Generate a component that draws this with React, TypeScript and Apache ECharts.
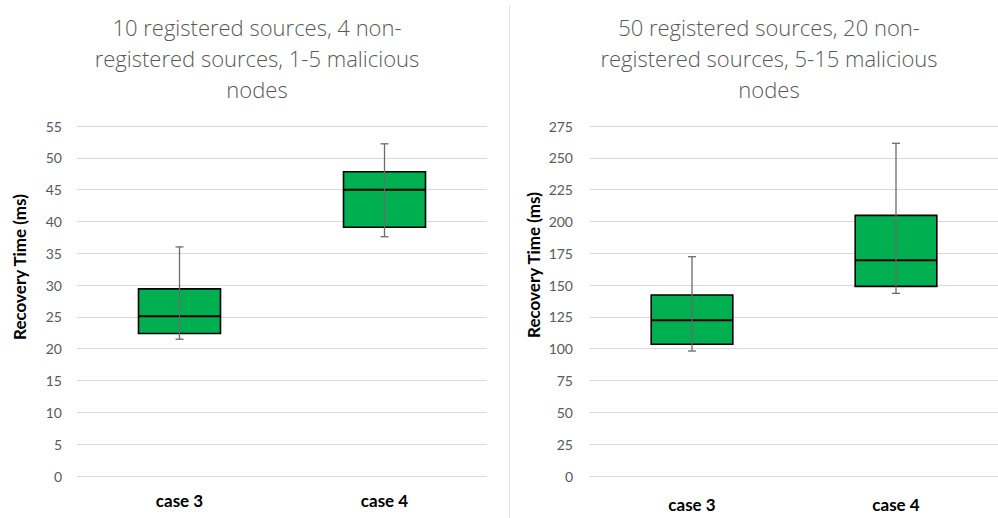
import React, { useEffect, useRef } from "react";
import * as echarts from "echarts";

const categories = ["case 3", "case 4"];

const titleSmall = "10 registered sources, 4 non-\nregistered sources, 1-5 malicious\nnodes";
const titleLarge = "50 registered sources, 20 non-\nregistered sources, 5-15 malicious\nnodes";
const yAxisName = "Recovery Time (ms)";

// chart 1 (small network)
const smallMin = [21.5, 37.6];
const smallQ1 = [22.4, 39.1];
const smallMedian = [25.1, 45.0];
const smallQ3 = [29.4, 47.8];
const smallMax = [36.0, 52.2];

// chart 2 (large network)
const largeMin = [98.2, 143.5];
const largeQ1 = [103.5, 149.0];
const largeMedian = [122.3, 169.5];
const largeQ3 = [142.2, 204.8];
const largeMax = [172.3, 261.4];

const FONT = "Lato, 'Open Sans', sans-serif";
const TITLE_FONT = "'Open Sans', Lato, sans-serif";

function buildRows(mn: number[], q1: number[], md: number[], q3: number[], mx: number[]) {
  return categories.map((_, i) => [i, mn[i], q1[i], md[i], q3[i], mx[i]]);
}

const renderBox = (params: any, api: any) => {
  const idx = api.value(0);
  const vMin = api.value(1);
  const vQ1 = api.value(2);
  const vMed = api.value(3);
  const vQ3 = api.value(4);
  const vMax = api.value(5);
  const band = api.size([1, 0])[0];
  const w = band * 0.4;
  const pMin = api.coord([idx, vMin]);
  const pQ1 = api.coord([idx, vQ1]);
  const pMed = api.coord([idx, vMed]);
  const pQ3 = api.coord([idx, vQ3]);
  const pMax = api.coord([idx, vMax]);
  const cx = pMin[0];
  const capHalf = 4;
  const whiskerStyle = { stroke: "#6b6b6b", lineWidth: 1.3 };
  return {
    type: "group",
    children: [
      {
        type: "rect",
        shape: { x: cx - w / 2, y: pQ3[1], width: w, height: pQ1[1] - pQ3[1] },
        style: { fill: "#00B050", stroke: "#000", lineWidth: 1.6 },
      },
      {
        type: "line",
        shape: { x1: cx - w / 2, y1: pMed[1], x2: cx + w / 2, y2: pMed[1] },
        style: { stroke: "#000", lineWidth: 2 },
      },
      {
        type: "line",
        shape: { x1: cx, y1: pMax[1], x2: cx, y2: pMin[1] },
        style: whiskerStyle,
      },
      {
        type: "line",
        shape: { x1: cx - capHalf, y1: pMax[1], x2: cx + capHalf, y2: pMax[1] },
        style: whiskerStyle,
      },
      {
        type: "line",
        shape: { x1: cx - capHalf, y1: pMin[1], x2: cx + capHalf, y2: pMin[1] },
        style: whiskerStyle,
      },
    ],
  };
};

export default function App() {
  const ref = useRef<HTMLDivElement>(null);
  useEffect(() => {
    if (!ref.current) return;
    const chart = echarts.init(ref.current, undefined, { renderer: "svg" });
    const yLabel = { color: "#595959", fontSize: 14, fontFamily: FONT, margin: 15 };
    const splitLine = { show: true, lineStyle: { color: "#d9d9d9", width: 1 } };
    const xLabel = { color: "#000", fontSize: 17, fontWeight: "bold" as const, fontFamily: FONT };
    const titleStyle = {
      fontSize: 22,
      fontWeight: 300 as any,
      color: "#595959",
      fontFamily: TITLE_FONT,
      lineHeight: 31,
    };
    const nameText = (x: number, y: number) => ({
      type: "text",
      x,
      y,
      rotation: Math.PI / 2,
      style: {
        text: yAxisName,
        fill: "#000",
        font: `bold 17px ${FONT}`,
        textAlign: "center",
        textVerticalAlign: "middle",
      },
    });
    chart.setOption({
      animation: false,
      backgroundColor: "#fff",
      title: [
        { text: titleSmall, left: 252, top: 6, textAlign: "center", textStyle: titleStyle },
        { text: titleLarge, left: 764, top: 6, textAlign: "center", textStyle: titleStyle },
      ],
      graphic: [
        {
          type: "line",
          shape: { x1: 509.5, y1: 6, x2: 509.5, y2: 518 },
          style: { stroke: "#e3e3e3", lineWidth: 1 },
        },
        nameText(19, 267),
        nameText(533, 265),
      ],
      grid: [
        { left: 77, top: 126, width: 410, height: 350 },
        { left: 590, top: 126, width: 408, height: 350 },
      ],
      xAxis: [
        {
          type: "category",
          gridIndex: 0,
          data: categories,
          axisLine: { show: false },
          axisTick: { show: false },
          axisLabel: { ...xLabel, margin: 16 },
        },
        {
          type: "category",
          gridIndex: 1,
          data: categories,
          axisLine: { show: false },
          axisTick: { show: false },
          axisLabel: { ...xLabel, margin: 20 },
        },
      ],
      yAxis: [
        {
          type: "value",
          gridIndex: 0,
          min: 0,
          max: 55,
          interval: 5,
          axisLine: { show: false },
          axisTick: { show: false },
          axisLabel: yLabel,
          splitLine,
        },
        {
          type: "value",
          gridIndex: 1,
          min: 0,
          max: 275,
          interval: 25,
          axisLine: { show: false },
          axisTick: { show: false },
          axisLabel: { ...yLabel, margin: 17 },
          splitLine,
        },
      ],
      series: [
        {
          type: "custom",
          xAxisIndex: 0,
          yAxisIndex: 0,
          renderItem: renderBox,
          encode: { x: 0, y: [1, 2, 3, 4, 5] },
          data: buildRows(smallMin, smallQ1, smallMedian, smallQ3, smallMax),
        },
        {
          type: "custom",
          xAxisIndex: 1,
          yAxisIndex: 1,
          renderItem: renderBox,
          encode: { x: 0, y: [1, 2, 3, 4, 5] },
          data: buildRows(largeMin, largeQ1, largeMedian, largeQ3, largeMax),
        },
      ],
    });
    return () => chart.dispose();
  }, []);
  return (
    <div
      ref={ref}
      style={{ position: "fixed", left: 0, top: 0, width: 998, height: 518 }}
    />
  );
}
